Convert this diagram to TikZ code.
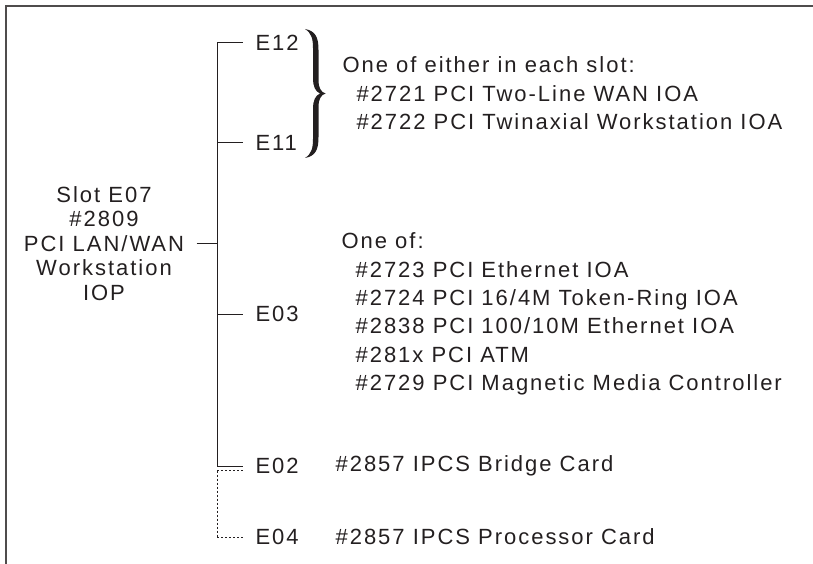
\documentclass[tikz,border=0pt]{standalone}
\usepackage{fontspec}
\setmainfont{Liberation Sans}[LetterSpace=9]
\usepackage{xcolor}
\usetikzlibrary{positioning}
\definecolor{encre}{HTML}{231F20}

\begin{document}
\begin{tikzpicture}[x=1pt,y=-1pt,line width=1pt,draw=encre,
                    slot/.style={inner sep=0pt,anchor=west,text=encre,font=\fontsize{22}{28.4}\selectfont},
                    liste/.style={slot,align=left},
                    carte/.style={inner sep=0pt,align=center,text=encre,font=\fontsize{22}{24.5}\selectfont},
                    option/.style={dash pattern=on 2pt off 2pt}]
    \useasboundingbox (0,0) rectangle (813,564);

    % Cadre
    \draw[line width=1.5pt,encre!80] (6,564) -- (6,6) -- (813,6);

    % Carte IOP et points de branchement
    \node[carte] (root) at (104,243.5) {Slot E07\\\#2809\\PCI LAN/WAN\\Workstation\\IOP};
    \coordinate (j12) at (217,43);
    \coordinate (j11) at (217,143);
    \coordinate (j07) at (217,243.5);
    \coordinate (j03) at (217,314);
    \coordinate (j02) at (217,466);
    \coordinate (j02b) at (217,470.5);
    \coordinate (j04) at (217,537);

    % Emplacements
    \node[slot, right=38pt of j12] (e12) {E12};
    \node[slot, right=38pt of j11] (e11) {E11};
    \node[slot, right=38pt of j03] (e03) {E03};
    \node[slot, right=38pt of j02] (e02) {E02};
    \node[slot, right=38pt of j04] (e04) {E04};

    % Arbre
    \draw ([xshift=12pt]root.east) -- (j07);
    \draw (j12) -- (j02);
    \draw (j12) -- ([xshift=-12pt]e12.west);
    \draw (j11) -- ([xshift=-12pt]e11.west);
    \draw (j03) -- ([xshift=-12pt]e03.west);
    \draw (j02) -- ([xshift=-12pt]e02.west);
    \draw[option] (j02b) -- (j04);
    \draw[option] (j02b) -- ([xshift=-12pt]e02.west |- j02b);
    \draw[option] (j04) -- ([xshift=-12pt]e04.west);

    % Accolade
    \fill[encre] (305,29) .. controls (316,31) and (318.5,38) .. (318.5,50) -- (318.5,80)
        .. controls (318.5,88) and (321,92) .. (325.5,93.5)
        .. controls (321,95) and (318.5,99) .. (318.5,107) -- (318.5,137)
        .. controls (318.5,149) and (316,156) .. (305,158)
        .. controls (311.5,154) and (313,148) .. (313,139) -- (313,109)
        .. controls (313,100) and (315.5,95.5) .. (320,93.5)
        .. controls (315.5,91.5) and (313,87) .. (313,78) -- (313,48)
        .. controls (313,39) and (311.5,33) .. (305,29) -- cycle;
    \coordinate (accolade) at (326,93.5);

    % Cartes possibles
    \node[liste, right=16pt of accolade] (optA)
        {One of either in each slot:\\\hspace*{14pt}\#2721 PCI Two-Line WAN IOA\\\hspace*{14pt}\#2722 PCI Twinaxial Workstation IOA};
    \node[liste, right=42pt of e03] (optB)
        {One of:\\\hspace*{14pt}\#2723 PCI Ethernet IOA\\\hspace*{14pt}\#2724 PCI 16/4M Token-Ring IOA\\\hspace*{14pt}\#2838 PCI 100/10M Ethernet IOA\\\hspace*{14pt}\#281x PCI ATM\\\hspace*{14pt}\#2729 PCI Magnetic Media Controller};
    \node[slot, right=36pt of e02] (opt02) {\#2857 IPCS Bridge Card};
    \node[slot, right=36pt of e04] (opt04) {\#2857 IPCS Processor Card};

\end{tikzpicture}
\end{document}
